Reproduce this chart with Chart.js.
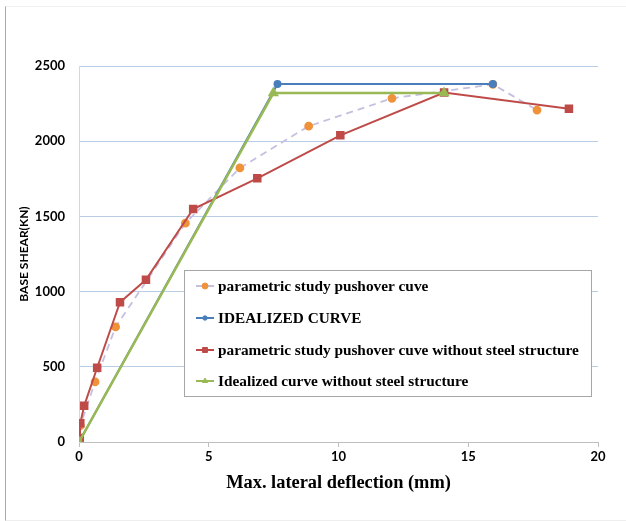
<!DOCTYPE html>
<html>
<head>
<meta charset="utf-8">
<script src="https://cdn.jsdelivr.net/npm/chart.js@4.4.1/dist/chart.umd.min.js"></script>
<style>
  html, body { margin: 0; padding: 0; background: #fff; }
  #wrap { position: relative; width: 626px; height: 521px; }
  #frame { position: absolute; left: 5px; top: 6px; width: 640px; height: 513px;
           border-left: 1.5px solid #a9a9a9; border-top: 1px solid #f0f0f0; border-bottom: 1px solid #eeeeee;
           pointer-events: none; }
  canvas { position: absolute; left: 0; top: 0; }
</style>
</head>
<body>
<div id="wrap">
  <canvas id="c" width="626" height="521"></canvas>
  <div id="frame"></div>
</div>
<script>
// ---- data ----
const seriesNames = [
  "parametric study pushover cuve",
  "IDEALIZED CURVE",
  "parametric study pushover cuve without steel structure",
  "Idealized curve without steel structure"
];
const pushoverX = [0, 0.05, 0.62, 1.41, 4.1, 6.2, 8.85, 12.06, 15.95, 17.65];
const pushoverY = [0, 108, 400, 765, 1455, 1822, 2100, 2285, 2378, 2207];
const idealX = [0, 7.65, 15.95];
const idealY = [0, 2380, 2380];
const noSteelX = [0, 0.03, 0.05, 0.2, 0.7, 1.58, 2.58, 4.4, 6.87, 10.07, 14.07, 18.88];
const noSteelY = [0, 27, 124, 241, 494, 929, 1079, 1549, 1753, 2039, 2323, 2216];
const idealNoSteelX = [0, 7.49, 14.07];
const idealNoSteelY = [0, 2320, 2320];
const xTicks = [0, 5, 10, 15, 20];
const yTicks = [0, 500, 1000, 1500, 2000, 2500];
const xTitle = "Max. lateral deflection (mm)";
const yTitle = "BASE SHEAR(KN)";

const pts = (xs, ys) => xs.map((x, i) => ({ x: x, y: ys[i] }));

const legendPlugin = {
  id: 'boxLegend',
  afterDatasetsDraw(chart) {
    const ctx = chart.ctx;
    const bx = 184.5, by = 270.5, bw = 407, bh = 126;
    ctx.save();
    ctx.fillStyle = '#ffffff';
    ctx.fillRect(bx, by, bw, bh);
    ctx.strokeStyle = '#a6a6a6';
    ctx.lineWidth = 1;
    ctx.strokeRect(bx, by, bw, bh);
    const rows = [286, 318, 350, 381];
    chart.data.datasets.forEach((ds, i) => {
      const y = rows[i];
      ctx.save();
      ctx.strokeStyle = ds.borderColor;
      ctx.lineWidth = 2;
      ctx.setLineDash(ds.borderDash || []);
      ctx.beginPath();
      ctx.moveTo(196, y);
      ctx.lineTo(214, y);
      ctx.stroke();
      ctx.restore();
      ctx.save();
      ctx.fillStyle = ds.pointBackgroundColor;
      ctx.strokeStyle = ds.pointBorderColor;
      ctx.lineWidth = 1;
      Chart.helpers.drawPoint(ctx, {
        pointStyle: ds.pointStyle, radius: ds.legendRadius, borderWidth: 1, rotation: 0
      }, 205, y);
      ctx.restore();
      ctx.fillStyle = '#000';
      ctx.font = 'bold 15.3px "Liberation Serif", "Times New Roman", serif';
      ctx.textBaseline = 'middle';
      ctx.textAlign = 'left';
      ctx.fillText(ds.label, 218, y + 1);
    });
    ctx.restore();
  }
};

new Chart(document.getElementById('c'), {
  type: 'scatter',
  data: {
    datasets: [
      {
        label: seriesNames[0], data: pts(pushoverX, pushoverY), showLine: true,
        borderColor: '#c5bfe0', borderWidth: 1.8, borderDash: [7, 5],
        pointStyle: 'circle', pointRadius: 3.5, legendRadius: 3,
        pointBackgroundColor: '#f0923a', pointBorderColor: '#f0923a', order: 4
      },
      {
        label: seriesNames[1], data: pts(idealX, idealY), showLine: true,
        borderColor: '#4a7ebb', borderWidth: 2,
        pointStyle: 'circle', pointRadius: 3, legendRadius: 2.2,
        pointBackgroundColor: '#4a7ebb', pointBorderColor: '#4a7ebb', order: 3
      },
      {
        label: seriesNames[2], data: pts(noSteelX, noSteelY), showLine: true,
        borderColor: '#be4b48', borderWidth: 2,
        pointStyle: 'rect', pointRadius: 4.6, legendRadius: 3.5,
        pointBackgroundColor: '#be4b48', pointBorderColor: '#be4b48', order: 2
      },
      {
        label: seriesNames[3], data: pts(idealNoSteelX, idealNoSteelY), showLine: true,
        borderColor: '#98b954', borderWidth: 2.5,
        pointStyle: 'triangle', pointRadius: 4, legendRadius: 3,
        pointBackgroundColor: '#98b954', pointBorderColor: '#98b954', order: 1
      }
    ]
  },
  options: {
    responsive: false,
    animation: false,
    events: [],
    layout: { padding: { left: 0, right: 28, top: 66, bottom: 27 } },
    plugins: { legend: { display: false }, tooltip: { enabled: false } },
    elements: { line: { tension: 0 } },
    scales: {
      x: {
        type: 'linear', min: 0, max: 20,
        afterBuildTicks: s => { s.ticks = xTicks.map(v => ({ value: v })); },
        afterFit: s => { s.height = 52; },
        grid: { display: true, drawOnChartArea: false, drawTicks: true, tickLength: 5, color: '#bfbfbf' },
        border: { display: true, color: '#bfbfbf', width: 1 },
        ticks: { color: '#000', padding: 2, callback: v => String(v),
                 font: { family: 'Lato', weight: 'bold', size: 13 } },
        title: { display: true, text: xTitle, color: '#000', padding: { top: 2, bottom: 0 },
                 font: { family: '"Liberation Serif"', weight: 'bold', size: 18.4 } }
      },
      y: {
        type: 'linear', min: 0, max: 2500,
        afterBuildTicks: s => { s.ticks = yTicks.map(v => ({ value: v })); },
        afterFit: s => { s.width = 79; },
        grid: { display: true, drawTicks: false, color: '#b9cde5', lineWidth: 1 },
        border: { display: true, color: '#d0d8e4', width: 1 },
        ticks: { color: '#000', padding: 14, callback: v => String(v),
                 font: { family: 'Lato', weight: 'bold', size: 13 } },
        title: { display: true, text: yTitle, color: '#000', padding: { top: 17, bottom: 0 },
                 font: { family: 'Lato', weight: 'bold', size: 12 } }
      }
    }
  },
  plugins: [legendPlugin]
});
</script>
</body>
</html>
